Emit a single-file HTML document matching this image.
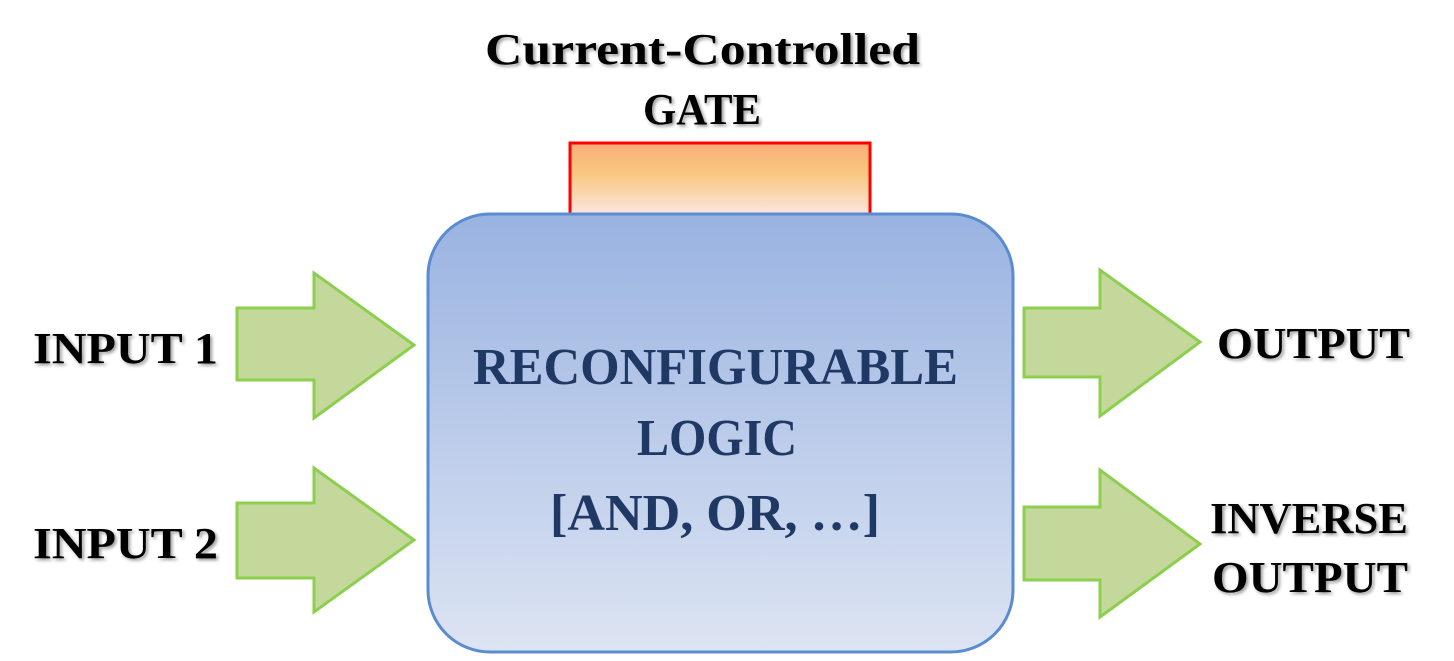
<!DOCTYPE html>
<html><head><meta charset="utf-8"><style>
body{margin:0;width:1454px;height:656px;overflow:hidden;background:#fff}
svg text{font-family:"Liberation Serif",serif;font-weight:bold}
</style></head><body>
<svg width="1454" height="656" viewBox="0 0 1454 656">
<defs>
<linearGradient id="g" x1="0" y1="0" x2="0" y2="1">
<stop offset="0" stop-color="#f9ae78"/><stop offset="0.4" stop-color="#f8c77f"/><stop offset="1" stop-color="#fde8e8"/></linearGradient>
<linearGradient id="b" x1="0" y1="0" x2="0" y2="1">
<stop offset="0" stop-color="#99b3e1"/><stop offset="1" stop-color="#dde4f3"/></linearGradient>
<filter id="s"><feDropShadow dx="2" dy="2" stdDeviation="1.5" flood-color="#000" flood-opacity="0.4"/></filter>
</defs>
<rect x="570" y="143" width="300" height="75" fill="url(#g)" stroke="#f00" stroke-width="3"/>
<rect x="428" y="214" width="585" height="438" rx="62" fill="url(#b)" stroke="#5b8bd0" stroke-width="3"/>
<g fill="#c5d89b" stroke="#8ccf4f" stroke-width="3">
<polygon points="237,308 314,308 314,273 414,345 314,418 314,380 237,380"/>
<polygon points="237,503 314,503 314,468 414,540 314,612 314,578 237,578"/>
<polygon points="1024,308 1100,308 1100,270 1200,342 1100,416 1100,377 1024,377"/>
<polygon points="1024,507 1100,507 1100,470 1200,544 1100,617 1100,580 1024,580"/>
</g>
<g filter="url(#s)" fill="#000" font-size="44" lengthAdjust="spacingAndGlyphs">
<text x="485" y="64" textLength="435" lengthAdjust="spacingAndGlyphs">Current-Controlled</text>
<text x="643" y="124" textLength="118" lengthAdjust="spacingAndGlyphs">GATE</text>
<text x="33" y="363" textLength="185" lengthAdjust="spacingAndGlyphs">INPUT 1</text>
<text x="33" y="558" textLength="185" lengthAdjust="spacingAndGlyphs">INPUT 2</text>
<text x="1217" y="358" textLength="193" lengthAdjust="spacingAndGlyphs">OUTPUT</text>
<text x="1210" y="533" textLength="198" lengthAdjust="spacingAndGlyphs">INVERSE</text>
<text x="1212" y="592" textLength="196" lengthAdjust="spacingAndGlyphs">OUTPUT</text>
</g>
<g fill="#1f3864" font-size="52">
<text x="473" y="384" textLength="485" lengthAdjust="spacingAndGlyphs">RECONFIGURABLE</text>
<text x="637" y="455" textLength="160" lengthAdjust="spacingAndGlyphs">LOGIC</text>
<text x="550" y="530" textLength="330" lengthAdjust="spacingAndGlyphs">[AND, OR, …]</text>
</g>
</svg>
</body></html>
